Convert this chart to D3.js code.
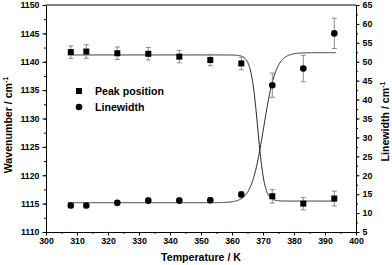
<!DOCTYPE html>
<html>
<head>
	<title>peak position and linewidth vs temperature</title>
	<script src="https://d3js.org/d3.v7.min.js"></script>
	<style>
		body { margin: 0; background: white; }
		text { font-family: 'Liberation Sans', Arial, sans-serif; font-weight: bold; fill: #000; }
	</style>
</head>
<body>
	<svg id="chart" width="392" height="265"></svg>
	<script type="text/javascript">

		// measured points
		var temps = [308, 313, 323, 333, 343, 353, 363, 373, 383, 393];
		var peak = [1141.7, 1141.8, 1141.5, 1141.4, 1140.9, 1140.3, 1139.7, 1116.3, 1115.0, 1115.9];
		var peakErr = [1.1, 1.2, 1.1, 1.1, 1.1, 1.0, 1.1, 1.2, 1.1, 1.3];
		var linewidth = [12.0, 12.0, 12.7, 13.3, 13.3, 13.4, 14.9, 43.8, 48.2, 57.5];
		var linewidthErr = [0.6, 0.6, 0.6, 0.7, 0.7, 0.7, 0.8, 3.2, 3.5, 4.0];

		// Boltzmann fits: [A1, A2, x0, dx]
		var peakFit = [1141.2, 1115.45, 368.3, 1.1];
		var linewidthFit = [12.75, 52.4, 370.2, 2.0];
		var fitRange = [307, 393.5];

		var xTicks = [300, 310, 320, 330, 340, 350, 360, 370, 380, 390, 400];
		var leftTicks = [1110, 1115, 1120, 1125, 1130, 1135, 1140, 1145, 1150];
		var rightTicks = [5, 10, 15, 20, 25, 30, 35, 40, 45, 50, 55, 60, 65];

		var mLeft = 46, mTop = 5, width = 310, height = 227;

		var svg = d3.select('#chart');
		var g = svg.append('g').attr('transform', 'translate(' + mLeft + ',' + mTop + ')');

		var xScale = d3.scaleLinear().domain([300, 400]).range([0, width]);
		var yLeft = d3.scaleLinear().domain([1110, 1150]).range([height, 0]);
		var yRight = d3.scaleLinear().domain([5, 65]).range([height, 0]);

		function minor(from, to, step) {
			return d3.range(from, to + step / 2, step);
		}

		// minor ticks first, then major axes on top
		g.append('g')
			.attr('transform', 'translate(0,' + height + ')')
			.call(d3.axisBottom(xScale).tickValues(minor(300, 400, 5)).tickSize(2).tickFormat(''))
			.call(a => a.select('.domain').remove());
		g.append('g')
			.call(d3.axisLeft(yLeft).tickValues(minor(1110, 1150, 2.5)).tickSize(2).tickFormat(''))
			.call(a => a.select('.domain').remove());
		g.append('g')
			.attr('transform', 'translate(' + width + ',0)')
			.call(d3.axisRight(yRight).tickValues(minor(5, 65, 2.5)).tickSize(2).tickFormat(''))
			.call(a => a.select('.domain').remove());

		var xAxis = g.append('g')
			.attr('transform', 'translate(0,' + height + ')')
			.call(d3.axisBottom(xScale).tickValues(xTicks).tickFormat(d3.format('d'))
				.tickSize(3.5).tickSizeOuter(0).tickPadding(2));
		var lAxis = g.append('g')
			.call(d3.axisLeft(yLeft).tickValues(leftTicks).tickFormat(d3.format('d'))
				.tickSize(3.5).tickSizeOuter(0).tickPadding(3));
		var rAxis = g.append('g')
			.attr('transform', 'translate(' + width + ',0)')
			.call(d3.axisRight(yRight).tickValues(rightTicks).tickFormat(d3.format('d'))
				.tickSize(3.5).tickSizeOuter(0).tickPadding(3));

		[xAxis, lAxis, rAxis].forEach(a => {
			a.attr('font-family', null).attr('font-size', null);
			a.selectAll('text').attr('font-size', 8.8).attr('fill', '#000');
		});
		g.selectAll('.tick line').attr('stroke', '#000').attr('stroke-width', 1);
		g.selectAll('.domain').attr('stroke', '#000').attr('stroke-width', 1);

		// top frame line
		g.append('line')
			.attr('x1', 0).attr('x2', width).attr('y1', 0).attr('y2', 0)
			.attr('stroke', '#000');

		// fit curves
		function boltzmann(p) {
			return x => p[1] + (p[0] - p[1]) / (1 + Math.exp((x - p[2]) / p[3]));
		}
		var xs = d3.range(fitRange[0], fitRange[1] + 0.01, 0.1);
		var fPeak = boltzmann(peakFit), fWidth = boltzmann(linewidthFit);

		g.append('path')
			.attr('d', d3.line().x(x => xScale(x)).y(x => yLeft(fPeak(x)))(xs))
			.attr('fill', 'none').attr('stroke', '#222').attr('stroke-width', 1);
		g.append('path')
			.attr('d', d3.line().x(x => xScale(x)).y(x => yRight(fWidth(x)))(xs))
			.attr('fill', 'none').attr('stroke', '#222').attr('stroke-width', 1);

		// error bars
		function errorBars(vals, errs, scale) {
			var eb = g.append('g').attr('stroke', '#8a8a8a').attr('stroke-width', 1);
			temps.forEach((t, i) => {
				var x = xScale(t), y0 = scale(vals[i] - errs[i]), y1 = scale(vals[i] + errs[i]);
				eb.append('line').attr('x1', x).attr('x2', x).attr('y1', y0).attr('y2', y1);
				eb.append('line').attr('x1', x - 2.5).attr('x2', x + 2.5).attr('y1', y0).attr('y2', y0);
				eb.append('line').attr('x1', x - 2.5).attr('x2', x + 2.5).attr('y1', y1).attr('y2', y1);
			});
		}
		errorBars(peak, peakErr, yLeft);
		errorBars(linewidth, linewidthErr, yRight);

		g.selectAll('.sq')
			.data(temps)
			.enter().append('rect')
			.attr('class', 'sq')
			.attr('x', (d, i) => xScale(d) - 3)
			.attr('y', (d, i) => yLeft(peak[i]) - 3)
			.attr('width', 6).attr('height', 6)
			.attr('fill', '#000');

		g.selectAll('.dot')
			.data(temps)
			.enter().append('circle')
			.attr('class', 'dot')
			.attr('cx', d => xScale(d))
			.attr('cy', (d, i) => yRight(linewidth[i]))
			.attr('r', 3.3)
			.attr('fill', '#000');

		// legend
		var legend = svg.append('g').attr('transform', 'translate(79,91)');
		legend.append('rect').attr('x', -3).attr('y', -3).attr('width', 6).attr('height', 6).attr('fill', '#000');
		legend.append('circle').attr('cx', 0).attr('cy', 16).attr('r', 3.3).attr('fill', '#000');
		legend.append('text').attr('x', 16).attr('y', 3.8).attr('font-size', 10.6).text('Peak position');
		legend.append('text').attr('x', 16).attr('y', 19.8).attr('font-size', 10.6).text('Linewidth');

		// axis titles
		svg.append('text')
			.attr('x', mLeft + width / 2)
			.attr('y', 261)
			.attr('text-anchor', 'middle')
			.attr('font-size', 10.6)
			.text('Temperature / K');

		function yTitle(label, x, y) {
			var t = svg.append('text')
				.attr('transform', 'translate(' + x + ',' + y + ') rotate(-90)')
				.attr('text-anchor', 'middle')
				.attr('font-size', 10.6);
			t.append('tspan').text(label + ' / cm');
			t.append('tspan').attr('font-size', 7).attr('dy', -4).text('-1');
		}
		yTitle('Wavenumber', 12, 125);
		yTitle('Linewidth', 388.5, 121.5);

	</script>
</body>
</html>
